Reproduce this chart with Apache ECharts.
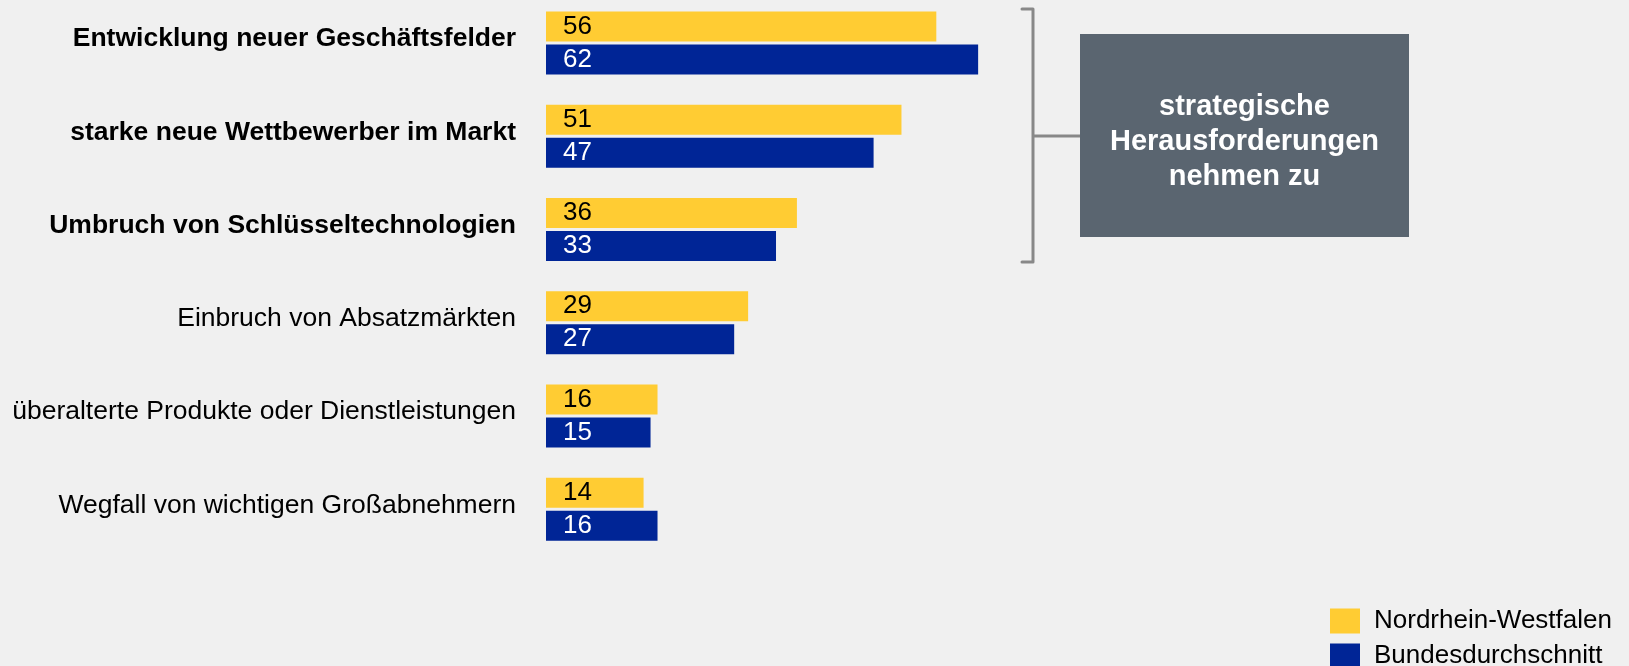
<!DOCTYPE html>
<html>
<head>
<meta charset="utf-8">
<script src="https://cdn.jsdelivr.net/npm/echarts@6/dist/echarts.min.js"></script>
<style>
  html, body { margin: 0; padding: 0; background: #f0f0f0; }
  #chart { width: 1629px; height: 666px; }
</style>
</head>
<body>
<div id="chart"></div>
<script>
// Kategorien (oben nach unten)
const categories = [
  "Entwicklung neuer Geschäftsfelder",
  "starke neue Wettbewerber im Markt",
  "Umbruch von Schlüsseltechnologien",
  "Einbruch von Absatzmärkten",
  "überalterte Produkte oder Dienstleistungen",
  "Wegfall von wichtigen Großabnehmern"
];
const boldCount = 3;
const nrw = [56, 51, 36, 29, 16, 14];
const bund = [62, 47, 33, 27, 15, 16];
const seriesNames = ["Nordrhein-Westfalen", "Bundesdurchschnitt"];
const boxLines = ["strategische", "Herausforderungen", "nehmen zu"];

const font = "'Liberation Sans', Arial, sans-serif";
const chart = echarts.init(document.getElementById("chart"));

// eine Legende pro Eintrag, sonst bricht die Spalte unten um
function legendItem(name, top) {
  return {
    left: 1325,
    top: top,
    itemWidth: 30,
    itemHeight: 25,
    icon: "rect",
    data: [name],
    textStyle: {
      fontSize: 26,
      fontFamily: font,
      color: "#000",
      padding: [0, 0, 0, 9]
    }
  };
}

chart.setOption({
  backgroundColor: "#f0f0f0",
  animation: false,
  // boundaryGap false: Kategorien liegen auf den Ticks, erste bei top
  grid: {
    left: 546,
    top: 43,
    height: 466.3,
    width: 697
  },
  xAxis: {
    type: "value",
    min: 0,
    max: 100,
    show: false
  },
  yAxis: {
    type: "category",
    data: categories,
    inverse: true,
    boundaryGap: false,
    axisLine: { show: false },
    axisTick: { show: false },
    splitLine: { show: false },
    axisLabel: {
      margin: 30,
      fontSize: 26.5,
      fontFamily: font,
      color: "#000",
      padding: [0, 0, 8, 0], // Beschriftung sitzt etwas über der Balkenmitte
      formatter: function (val, idx) {
        return idx < boldCount ? "{b|" + val + "}" : val;
      },
      rich: {
        b: { fontSize: 26.5, fontFamily: font, fontWeight: "bold", color: "#000" }
      }
    }
  },
  legend: [legendItem(seriesNames[0], 603), legendItem(seriesNames[1], 638)],
  series: [
    {
      name: seriesNames[0],
      type: "bar",
      data: nrw,
      barWidth: 30,
      barGap: "10%",
      itemStyle: { color: "#ffcc33" },
      label: {
        show: true,
        position: "insideLeft",
        distance: 17,
        fontSize: 26,
        fontFamily: font,
        color: "#000"
      }
    },
    {
      name: seriesNames[1],
      type: "bar",
      data: bund,
      barWidth: 30,
      barGap: "10%",
      itemStyle: { color: "#002596" },
      label: {
        show: true,
        position: "insideLeft",
        distance: 17,
        fontSize: 26,
        fontFamily: font,
        color: "#fff"
      }
    }
  ],
  graphic: [
    {
      type: "polyline",
      shape: { points: [[1022, 9], [1033, 9], [1033, 262], [1022, 262]] },
      style: { stroke: "#888888", lineWidth: 3, fill: null, lineJoin: "round", lineCap: "round" }
    },
    {
      type: "line",
      shape: { x1: 1033, y1: 136, x2: 1080, y2: 136 },
      style: { stroke: "#888888", lineWidth: 3 }
    },
    {
      type: "rect",
      shape: { x: 1080, y: 34, width: 329, height: 203 },
      style: { fill: "#5a6570" }
    },
    {
      type: "text",
      x: 1244.5,
      y: 141.5,
      style: {
        text: boxLines.join("\n"),
        fill: "#fff",
        font: "bold 29px " + font,
        lineHeight: 35,
        align: "center",
        verticalAlign: "middle"
      }
    }
  ]
});
</script>
</body>
</html>
